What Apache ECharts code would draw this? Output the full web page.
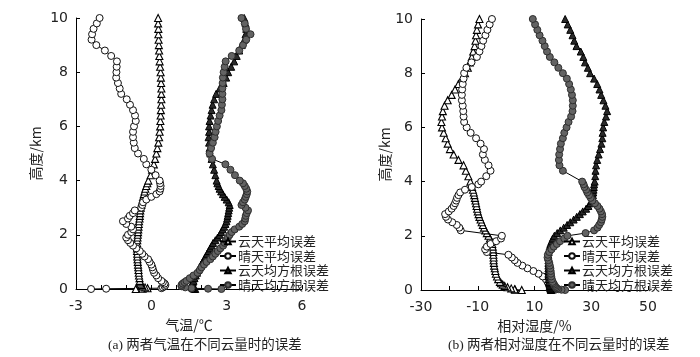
<!DOCTYPE html>
<html><head><meta charset="utf-8">
<script src="https://cdn.jsdelivr.net/npm/echarts@6/dist/echarts.min.js"></script>
<style>html,body{margin:0;padding:0;background:#fff}#c{width:700px;height:357px}</style>
</head><body><div id="c"></div>
<script>
// heights (km)
const heights = [
  0, 0.01, 0.03, 0.06, 0.1, 0.15, 0.2, 0.25, 0.3,
  0.4, 0.5, 0.6, 0.7, 0.8, 0.9, 1.0,
  1.1, 1.2, 1.3, 1.4, 1.5, 1.6, 1.7, 1.8, 1.9, 2.0,
  2.1, 2.2, 2.3, 2.4, 2.5, 2.6, 2.7, 2.8, 2.9, 3.0,
  3.1, 3.2, 3.3, 3.4, 3.5, 3.6, 3.7, 3.8, 3.9, 4.0,
  4.2, 4.4, 4.6, 4.8, 5.0, 5.2, 5.4, 5.6, 5.8, 6.0,
  6.2, 6.4, 6.6, 6.8, 7.0, 7.2, 7.4, 7.6, 7.8, 8.0,
  8.2, 8.4, 8.6, 8.8, 9.0, 9.2, 9.4, 9.6, 9.8, 10.0
];
const seriesNames = ['云天平均误差', '晴天平均误差', '云天均方根误差', '晴天均方根误差'];

// (a) temperature error, °C
const tCloudMean = [
  -0.62, -0.35, -0.15, -0.25, -0.35, -0.4, -0.44, -0.45, -0.46,
  -0.47, -0.49, -0.5, -0.51, -0.52, -0.53, -0.54,
  -0.55, -0.56, -0.56, -0.57, -0.57, -0.57, -0.57, -0.56, -0.55, -0.54,
  -0.53, -0.52, -0.51, -0.5, -0.49, -0.47, -0.46, -0.45, -0.44, -0.42,
  -0.4, -0.38, -0.35, -0.33, -0.3, -0.27, -0.24, -0.2, -0.16, -0.12,
  -0.03, 0.03, 0.1, 0.15, 0.2, 0.24, 0.28, 0.31, 0.33, 0.35,
  0.36, 0.37, 0.38, 0.39, 0.4, 0.4, 0.4, 0.39, 0.38, 0.37,
  0.35, 0.33, 0.32, 0.31, 0.3, 0.29, 0.28, 0.28, 0.27, 0.27
];
const tClearMean = [
  -2.4, -1.8, 0.4, 0.46, 0.53, 0.56, 0.53, 0.46, 0.4,
  0.27, 0.2, 0.11, 0.07, 0.04, 0.0, -0.07,
  -0.13, -0.27, -0.36, -0.46, -0.6, -0.73, -0.84, -0.93, -1.0, -0.93,
  -0.8, -0.73, -0.8, -1.0, -1.13, -0.93, -0.86, -0.73, -0.66, -0.4,
  -0.36, -0.33, -0.2, 0.0, 0.2, 0.33, 0.36, 0.37, 0.35, 0.33,
  0.17, 0.0, -0.2, -0.3, -0.53, -0.66, -0.7, -0.73, -0.73, -0.69,
  -0.62, -0.65, -0.73, -0.85, -0.98, -1.2, -1.26, -1.33, -1.4, -1.39,
  -1.38, -1.37, -1.6, -1.85, -2.19, -2.38, -2.36, -2.3, -2.17, -2.06
];
const tCloudRmse = [
  1.75, 1.7, 1.65, 1.62, 1.6, 1.6, 1.62, 1.65, 1.68,
  1.72, 1.77, 1.82, 1.87, 1.92, 1.98, 2.04,
  2.1, 2.16, 2.22, 2.28, 2.34, 2.4, 2.46, 2.55, 2.64, 2.72,
  2.78, 2.84, 2.9, 2.95, 2.99, 3.02, 3.04, 3.06, 3.08, 3.1,
  3.12, 3.08, 3.0, 2.92, 2.85, 2.78, 2.72, 2.68, 2.63, 2.6,
  2.55, 2.5, 2.45, 2.4, 2.35, 2.32, 2.3, 2.28, 2.3, 2.3,
  2.32, 2.36, 2.4, 2.44, 2.5, 2.58, 2.72, 2.88, 2.98, 3.06,
  3.18, 3.3, 3.4, 3.5, 3.6, 3.7, 3.75, 3.78, 3.75, 3.7
];
const tClearRmse = [
  2.79, 2.26, 1.6, 1.35, 1.2, 1.2, 1.25, 1.32, 1.4,
  1.53, 1.68, 1.84, 1.93, 2.0, 2.1, 2.2,
  2.35, 2.45, 2.55, 2.65, 2.75, 2.86, 2.92, 2.97, 3.05, 3.12,
  3.2, 3.32, 3.5, 3.62, 3.72, 3.74, 3.76, 3.8, 3.85, 3.75,
  3.59, 3.65, 3.72, 3.76, 3.8, 3.82, 3.78, 3.72, 3.65, 3.52,
  3.33, 3.15, 2.95, 2.42, 2.32, 2.38, 2.45, 2.52, 2.56, 2.61,
  2.66, 2.72, 2.79, 2.81, 2.83, 2.83, 2.83, 2.84, 2.85, 2.88,
  2.92, 2.96, 3.2, 3.5, 3.65, 3.78, 3.95, 3.77, 3.72, 3.59
];

// (b) relative humidity error, %
const rCloudMean = [
  5.5, 3.2, 3.0, 1.8, 0.5, -0.5, -1.2, -1.8, -2.2,
  -2.8, -3.2, -3.6, -3.8, -4.0, -4.2, -4.3,
  -4.4, -4.4, -4.5, -4.5, -4.6, -4.7, -4.9, -5.2, -5.7, -6.2,
  -6.8, -7.3, -7.8, -8.2, -8.6, -9.0, -9.4, -9.7, -10.0, -10.2,
  -10.4, -10.6, -10.8, -11.0, -11.2, -11.4, -11.7, -12.0, -12.3, -12.6,
  -13.3, -14.2, -15.0, -16.8, -18.5, -19.8, -20.6, -21.3, -22.0, -22.6,
  -22.8, -22.6, -22.3, -21.7, -20.6, -19.2, -18.0, -16.8, -15.6, -14.5,
  -13.5, -12.8, -12.1, -11.6, -11.1, -10.8, -10.6, -10.3, -9.9, -9.4
];
const rClearMean = [
  15.5, 17.3, 17.0, 16.5, 15.9, 15.5, 15.2, 14.9, 14.6,
  14.0, 12.9, 11.4, 9.6, 7.5, 5.7, 4.0,
  3.0, 2.0, 0.8, -6.8, -7.4, -6.8, -5.5, -3.5, -1.8, -1.5,
  null, -16.0, -16.5, -17.4, -19.0, -20.5, -21.2, -21.5, -20.2, -19.2,
  -18.5, -18.0, -17.6, -17.3, -16.8, -16.2, -14.5, -12.1, -9.8, -8.8,
  -7.0, -5.5, -6.2, -7.5, -8.2, -7.8, -9.0, -10.6, -12.5, -13.9,
  -14.8, -15.0, -15.1, -15.3, -15.6, -15.6, -15.5, -15.3, -15.0, -14.8,
  -14.0, -12.2, -10.3, -9.4, -8.7, -8.1, -7.3, -6.6, -5.8, -5.0
];
const rCloudRmse = [
  15.8, 15.8, 15.7, 15.6, 15.5, 15.4, 15.3, 15.2, 15.1,
  15.0, 14.9, 14.9, 14.9, 14.9, 14.9, 14.9,
  14.9, 14.9, 14.9, 15.0, 15.1, 15.3, 15.6, 16.0, 16.4, 17.0,
  18.0, 19.1, 20.3, 21.5, 22.6, 23.8, 24.9, 26.0, 27.0, 28.2,
  29.0, 29.7, 30.2, 30.4, 30.6, 30.7, 30.8, 30.9, 31.0, 31.2,
  31.4, 31.5, 31.7, 32.1, 32.6, 33.1, 33.6, 33.9, 34.0, 34.2,
  34.6, 35.2, 35.6, 35.0, 34.3, 33.5, 32.9, 32.1, 31.0, 29.6,
  28.8, 27.8, 27.2, 26.3, 24.8, 24.0, 23.4, 22.6, 21.7, 20.8
];
const rClearRmse = [
  20.8, 19.5, 18.4, 17.9, 17.5, 17.2, 16.9, 16.6, 16.4,
  16.1, 15.9, 15.8, 15.7, 15.6, 15.4, 15.2,
  14.9, 14.6, 14.7, 15.2, 16.0, 16.8, 17.9, 19.0, 20.5, 21.6,
  28.0, 31.0, 32.2, 32.8, 33.4, 33.7, 33.9, 33.8, 33.4, 32.9,
  32.2, 31.3, 30.4, 29.8, 29.2, 28.6, 28.2, 27.6, 27.3, 26.8,
  null, 20.0, 18.8, 18.6, 18.7, 19.0, 19.3, 20.0, 20.5, 21.3,
  22.0, 22.9, 23.4, 23.5, 23.5, 23.2, 22.8, 22.2, 21.4, 20.0,
  18.4, 17.0, 15.4, 14.4, 13.6, 12.8, 11.8, 11.0, 10.2, 9.4
];

const xTicksA = { min: -3, max: 6, interval: 3 };
const xTicksB = { min: -30, max: 50, interval: 20 };

function pairs(vals) {
  const out = [];
  vals.forEach((v, i) => { if (v !== null) out.push([v, heights[i]]); });
  return out;
}
const styles = [
  { symbol: 'triangle', fill: '#ffffff', border: '#000000', bw: 1.1 },
  { symbol: 'circle', fill: '#ffffff', border: '#111111', bw: 1 },
  { symbol: 'triangle', fill: '#2a2a2a', border: '#000000', bw: 1 },
  { symbol: 'circle', fill: '#636363', border: '#2e2e2e', bw: 1 }
];
function mk(idx, vals, axis) {
  const s = styles[idx];
  return {
    type: 'line', name: seriesNames[idx], xAxisIndex: axis, yAxisIndex: axis,
    data: pairs(vals), symbol: s.symbol, symbolSize: 7,
    showSymbol: true, showAllSymbol: true,
    lineStyle: { color: '#000', width: 1 },
    itemStyle: { color: s.fill, borderColor: s.border, borderWidth: s.bw },
    emphasis: { disabled: true }, animation: false
  };
}
const labelFont = { fontFamily: 'DejaVu Sans', fontSize: 14, color: '#222' };
const cjk = "'Noto Sans CJK SC', sans-serif";
function xAx(grid, t, name, minorSplit, gap) {
  return {
    type: 'value', gridIndex: grid, min: t.min, max: t.max, interval: t.interval,
    name: name, nameLocation: 'middle', nameGap: gap,
    nameTextStyle: { fontFamily: cjk, fontSize: 14, color: '#222' },
    axisLine: { onZero: false, lineStyle: { color: '#000', width: 1 } },
    axisTick: { inside: true, length: 4, lineStyle: { color: '#000' } },
    minorTick: { show: true, splitNumber: minorSplit, length: 4, lineStyle: { color: '#000' } },
    axisLabel: Object.assign({ margin: 10 }, labelFont),
    splitLine: { show: false }, minorSplitLine: { show: false }
  };
}
function yAx(grid, gap) {
  return {
    type: 'value', gridIndex: grid, min: 0, max: 10, interval: 2,
    name: '高度/km', nameLocation: 'middle', nameGap: gap,
    nameTextStyle: { fontFamily: cjk, fontSize: 14, color: '#222' },
    axisLine: { show: true, onZero: false, lineStyle: { color: '#000', width: 1 } },
    axisTick: { show: true, inside: true, length: 4, lineStyle: { color: '#000' } },
    axisLabel: Object.assign({ margin: 8 }, labelFont),
    splitLine: { show: false }
  };
}
function legend(left) {
  return {
    data: seriesNames, orient: 'vertical', left: left, top: 235,
    itemWidth: 16, itemHeight: 7, itemGap: 1.5, padding: 0,
    textStyle: { fontFamily: cjk, fontSize: 13, color: '#222', padding: [0, 0, 0, -3], lineHeight: 13 },
    selectedMode: false
  };
}
const chart = echarts.init(document.getElementById('c'), null, { renderer: 'canvas' });
chart.setOption({
  animation: false,
  backgroundColor: '#fff',
  grid: [
    { left: 76, top: 18, width: 226, height: 271 },
    { left: 421, top: 19, width: 227, height: 271 }
  ],
  xAxis: [xAx(0, xTicksA, '气温/℃', 3, 28), xAx(1, xTicksB, '相对湿度/%', 2, 28)],
  yAxis: [yAx(0, 33), yAx(1, 28)],
  legend: [legend(219), legend(563)],
  series: [
    mk(0, tCloudMean, 0), mk(1, tClearMean, 0), mk(2, tCloudRmse, 0), mk(3, tClearRmse, 0),
    mk(0, rCloudMean, 1), mk(1, rClearMean, 1), mk(2, rCloudRmse, 1), mk(3, rClearRmse, 1)
  ],
  graphic: [
    { type: 'text', left: 108, top: 339, style: { text: '(a) 两者气温在不同云量时的误差', font: "13.5px 'Liberation Serif', 'Noto Sans CJK SC'", fill: '#222' } },
    { type: 'text', left: 448, top: 339, style: { text: '(b) 两者相对湿度在不同云量时的误差', font: "13.5px 'Liberation Serif', 'Noto Sans CJK SC'", fill: '#222' } }
  ]
});
</script></body></html>
